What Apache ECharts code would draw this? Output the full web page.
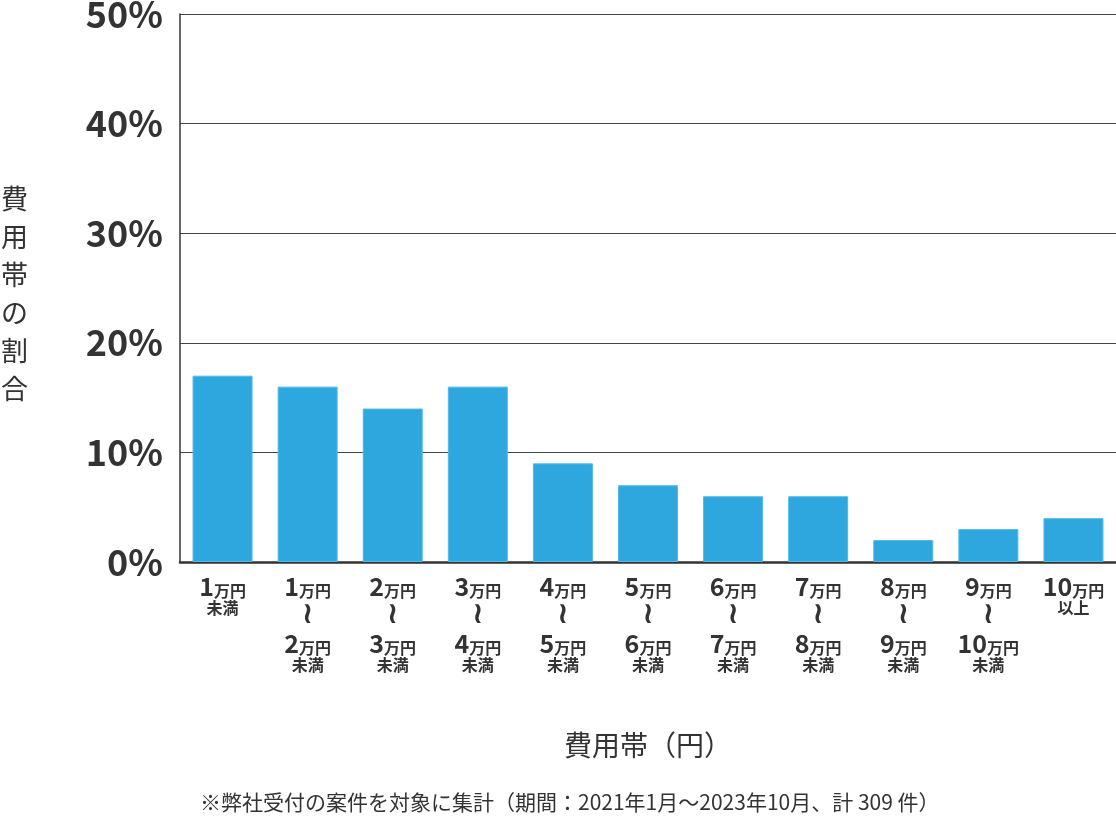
<!DOCTYPE html>
<html>
	<head>
		<meta charset="utf-8">
		<script type="text/javascript" src="https://cdn.jsdelivr.net/npm/echarts@6/dist/echarts.min.js"></script>
		<style>
			html, body { margin: 0; padding: 0; background: #fff; }
		</style>
	</head>
	<body>
		<div id="main" style="width:1116px;height:828px"></div>
		<script type="text/javascript">
			// 費用帯（下限・上限）
			var lowerLabels = ['1', '1', '2', '3', '4', '5', '6', '7', '8', '9', '10'];
			var upperLabels = ['', '2', '3', '4', '5', '6', '7', '8', '9', '10', ''];
			var suffixLabels = ['未満', '未満', '未満', '未満', '未満', '未満', '未満', '未満', '未満', '未満', '以上'];
			// 割合（%）
			var shareValues = [17, 16, 14, 16, 9, 7, 6, 6, 2, 3, 4];
			var yTicks = [0, 10, 20, 30, 40, 50];

			var categories = lowerLabels.map(function(l, i) {
				if(!upperLabels[i]) {
					return '{n|' + l + '}{u|万円}\n{s|' + suffixLabels[i] + '}';
				}
				return '{n|' + l + '}{u|万円}\n{w|≀}\n{n|' + upperLabels[i] + '}{u|万円}\n{s|' + suffixLabels[i] + '}';
			});

			var myChart = echarts.init(document.getElementById('main'));
			var font = '"Noto Sans CJK JP", "Noto Sans", sans-serif';
			var option = {
				animation: false,
				textStyle: { fontFamily: font },
				grid: { left: 180, right: 0, top: 14, bottom: 266, outerBoundsMode: 'none', containLabel: false },
				graphic: [{
					type: 'text',
					left: 1,
					top: 180,
					style: {
						text: '費\n用\n帯\nの\n割\n合',
						font: '27px "Noto Sans CJK JP"',
						fill: '#333',
						lineHeight: 38
					}
				}, {
					type: 'text',
					left: 200,
					top: 792,
					style: {
						text: '※弊社受付の案件を対象に集計（期間：2021年1月～2023年10月、計 309 件）',
						font: '21px "Noto Sans CJK JP"',
						fill: '#333'
					}
				}],
				xAxis: {
					type: 'category',
					data: categories,
					name: '費用帯（円）',
					nameLocation: 'middle',
					nameGap: 169,
					nameTextStyle: { fontSize: 28, color: '#333', fontFamily: font },
					axisLine: { lineStyle: { color: '#333', width: 2.5 } },
					axisTick: { show: false },
					axisLabel: {
						interval: 0,
						margin: 12,
						color: '#333',
						rich: {
							n: { fontSize: 25, fontWeight: 'bold', color: '#333', fontFamily: font, lineHeight: 25, verticalAlign: 'bottom' },
							u: { fontSize: 16, fontWeight: 'bold', color: '#333', fontFamily: font, lineHeight: 25, verticalAlign: 'bottom' },
							s: { fontSize: 16, fontWeight: 'bold', color: '#333', fontFamily: font, lineHeight: 18 },
							w: { fontSize: 30, fontWeight: 'bold', color: '#333', fontFamily: '"DejaVu Sans"', lineHeight: 32 }
						}
					}
				},
				yAxis: {
					type: 'value',
					min: yTicks[0],
					max: yTicks[yTicks.length - 1],
					interval: 10,
					axisLine: { show: true, lineStyle: { color: '#333', width: 1.5 } },
					axisTick: { show: false },
					splitLine: { lineStyle: { color: '#444', width: 1 } },
					axisLabel: {
						margin: 17,
						formatter: '{value}%',
						fontSize: 36,
						fontWeight: 'bold',
						color: '#333',
						fontFamily: font
					}
				},
				series: [{
					type: 'bar',
					data: shareValues,
					barWidth: 60,
					itemStyle: {
						color: '#2ea7de',
						borderColor: '#52b9e8',
						borderWidth: 1
					}
				}]
			};
			myChart.setOption(option);
		</script>
	</body>
</html>
